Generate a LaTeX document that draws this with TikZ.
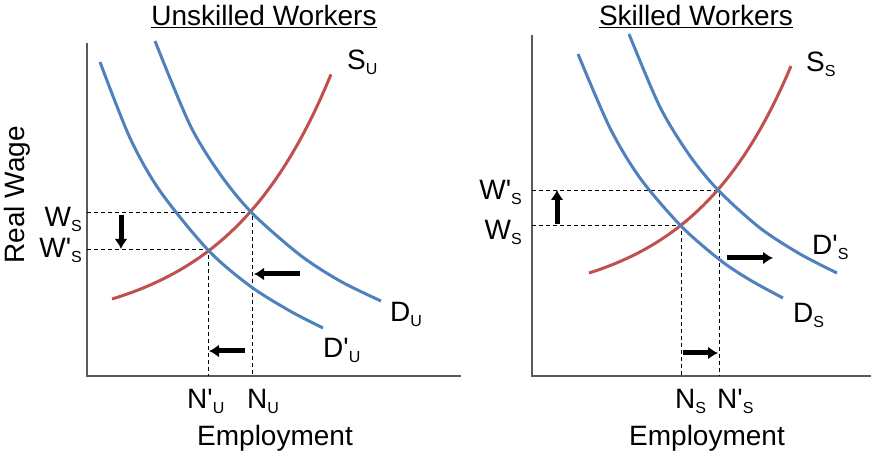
\documentclass[tikz,border=0pt]{standalone}
\usepackage{fontspec}
\setmainfont{Liberation Sans}
\usetikzlibrary{arrows.meta}
\definecolor{demandblue}{RGB}{79,129,189}
\definecolor{supplyred}{RGB}{192,80,77}
\definecolor{axisgray}{RGB}{90,90,90}
\newcommand{\lsub}[1]{\raisebox{-5pt}{\fontsize{16}{16}\selectfont #1}}
\newcommand{\pr}{\textquotesingle}

\begin{document}
\begin{tikzpicture}[x=1pt,y=-1pt]
    \tikzset{
      axis/.style={draw=axisgray, line width=1.5pt},
      demand/.style={draw=demandblue, line width=3pt},
      supply/.style={draw=supplyred, line width=3pt},
      guide/.style={dash pattern=on 4pt off 3pt, line width=1pt},
      movearrow/.style={line width=5pt, -{Latex[length=10pt, width=13pt]}},
      lbl/.style={font=\fontsize{28}{32}\selectfont, inner sep=0pt}
    }
    \useasboundingbox (0,0) rectangle (871,454);

    % unskilled workers
    \coordinate (OU) at (87,376);
    \coordinate (EU) at (252,213);
    \coordinate (EUn) at (208,250);
    \draw[axis] (87,43) -- (OU) -- (461,376);
    \node[lbl, anchor=base] (titleU) at (264,26) {\underline{Unskilled Workers}};
    \node[lbl, rotate=90] (wageU) at (17,195) {Real Wage};
    \node[lbl, anchor=base] (empU) at (275,446) {Employment};

    \draw[guide] (EU -| OU) -- (EU) -- (EU |- OU);
    \draw[guide] (EUn -| OU) -- (EUn) -- (EUn |- OU);

    \draw[supply] plot[domain=112:331, samples=40] (\x, {299 - 32*(exp(0.0095*(\x-112))-1)});
    \draw[demand] plot[smooth] coordinates {(155,41) (190,125) (220,174) (252,213) (300,255) (340,281) (381,301)};
    \draw[demand] plot[smooth] coordinates {(100,62) (130,138) (160,191) (208,250) (250,286) (290,311) (323,328)};

    \node[lbl, anchor=base west] (SU) at (347,70) {S\lsub{U}};
    \node[lbl, anchor=base west] (DU) at (390,322) {D\lsub{U}};
    \node[lbl, anchor=base west] (DUn) at (323,358) {D\pr\lsub{U}};
    \node[lbl, anchor=base east] (WSU) at (82,227) {W\lsub{S}};
    \node[lbl, anchor=base east] (WSUn) at (82,258) {W\pr\lsub{S}};
    \node[lbl, anchor=base west] (NUn) at (187,409) {N\pr\lsub{U}};
    \node[lbl, anchor=base west] (NU) at (247,409) {N\lsub{U}};

    \coordinate (a1) at (121,215);
    \coordinate (a2) at (121,249);
    \coordinate (b1) at (300,274);
    \coordinate (b2) at (254,274);
    \coordinate (c1) at (245,351);
    \coordinate (c2) at (209,351);
    \draw[movearrow] (a1) -- (a2);
    \draw[movearrow] (b1) -- (b2);
    \draw[movearrow] (c1) -- (c2);

    % skilled workers
    \coordinate (OS) at (532,376);
    \coordinate (ES) at (681,226);
    \coordinate (ESn) at (719,191);
    \draw[axis] (532,35) -- (OS) -- (871,376);
    \node[lbl, anchor=base] (titleS) at (696,26) {\underline{Skilled Workers}};
    \node[lbl, anchor=base] (empS) at (707,446) {Employment};

    \draw[guide] (ES -| OS) -- (ES) -- (ES |- OS);
    \draw[guide] (ESn -| OS) -- (ESn) -- (ESn |- OS);

    \draw[supply] plot[domain=589:791, samples=40] (\x, {273 - 31.7*(exp(0.01*(\x-589))-1)});
    \draw[demand] plot[smooth] coordinates {(578,54) (610,128) (640,178) (681,226) (720,260) (750,280) (783,298)};
    \draw[demand] plot[smooth] coordinates {(629,34) (660,107) (690,156) (719,191) (760,228) (800,254) (837,273)};

    \node[lbl, anchor=base west] (SS) at (806,72) {S\lsub{S}};
    \node[lbl, anchor=base west] (DSn) at (812,255) {D\pr\lsub{S}};
    \node[lbl, anchor=base west] (DS) at (793,323) {D\lsub{S}};
    \node[lbl, anchor=base east] (WSSn) at (522,200) {W\pr\lsub{S}};
    \node[lbl, anchor=base east] (WSS) at (522,240) {W\lsub{S}};
    \node[lbl, anchor=base west] (NS) at (675,409) {N\lsub{S}};
    \node[lbl, anchor=base west] (NSn) at (717,409) {N\pr\lsub{S}};

    \coordinate (d1) at (557,224);
    \coordinate (d2) at (557,190);
    \coordinate (e1) at (727,258);
    \coordinate (e2) at (773,258);
    \coordinate (f1) at (683,353);
    \coordinate (f2) at (718,353);
    \draw[movearrow] (d1) -- (d2);
    \draw[movearrow] (e1) -- (e2);
    \draw[movearrow] (f1) -- (f2);
\end{tikzpicture}
\end{document}
